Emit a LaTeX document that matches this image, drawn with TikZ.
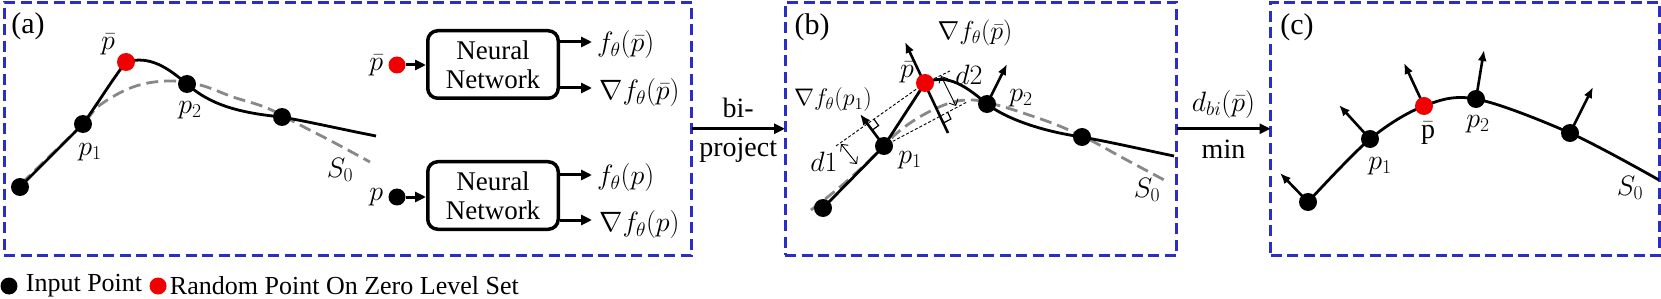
\RequirePackage{fix-cm}
\documentclass[tikz,border=0pt]{standalone}
\usepackage{fontspec}
\setmainfont{Liberation Serif}
\usetikzlibrary{arrows.meta,positioning}
\definecolor{FrameBlue}{RGB}{42,46,196}
\definecolor{PointRed}{RGB}{240,0,0}
\definecolor{ZeroGray}{RGB}{136,136,136}

\begin{document}
\begin{tikzpicture}[x=1pt,y=-1pt,
    panel/.style={draw=FrameBlue,line width=3pt,dash pattern=on 11pt off 5.5pt,
      inner sep=0pt,outer sep=0pt,minimum height=253pt},
    dot/.style={circle,fill=black,minimum size=18pt,inner sep=0pt},
    rdot/.style={dot,fill=PointRed},
    curve/.style={line width=2.8pt},
    zeroset/.style={draw=ZeroGray,line width=2.8pt,dash pattern=on 12pt off 6pt},
    grad/.style={line width=2.6pt,-{Latex[length=11pt,width=9pt]}},
    flow/.style={line width=3pt,-{Triangle[length=11pt,width=10pt]}},
    guide/.style={line width=0.9pt,dash pattern=on 3pt off 2pt},
    dist/.style={line width=0.9pt,{Straight Barb[length=5pt]}-{Straight Barb[length=5pt]}},
    net/.style={draw,line width=3.5pt,rounded corners=10pt,minimum width=130.5pt,
      minimum height=67.5pt,align=center,font=\fontsize{27}{29}\selectfont},
    lbl/.style={inner sep=0pt,font=\fontsize{28}{30}\selectfont},
    outlbl/.style={lbl,anchor=west},
    tag/.style={inner sep=0pt,font=\fontsize{30}{32}\selectfont},
    keytext/.style={inner sep=0pt,font=\fontsize{26}{28}\selectfont}
  ]
  \useasboundingbox (0,0) rectangle (1661,299);

  % frames
  \node[panel,minimum width=687.5pt] (panA) at (347.75,128.75) {};
  \node[panel,minimum width=391.5pt] (panB) at (980.75,128.75) {};
  \node[panel,minimum width=389pt] (panC) at (1465,128.75) {};
  \node[tag] at (28,26) {(a)};
  \node[tag] at (812,27) {(b)};
  \node[tag] at (1297,27) {(c)};

  % (a) curves
  \coordinate (a0) at (20,187);
  \coordinate (a1) at (83,124);
  \coordinate (ar) at (126,62);
  \coordinate (a2) at (187,84);
  \coordinate (a3) at (282,117);
  \coordinate (ae) at (376,136);
  \draw[zeroset] plot[smooth,tension=0.6] coordinates {(22,183) (53,153) (83,124)
    (100,105) (133,87) (167,81) (200,85) (233,97) (267,108) (300,125) (333,142) (370,162)};
  \draw[curve] (a0) -- (a1) .. controls (98,103) and (112,80) .. (ar)
    .. controls (150,55) and (168,68) .. (a2)
    .. controls (210,105) and (240,113) .. (a3)
    .. controls (315,123) and (345,130) .. (ae);
  \node[dot] (dA0) at (a0) {};
  \node[dot] (dA1) at (a1) {};
  \node[rdot] (dAr) at (ar) {};
  \node[dot] (dA2) at (a2) {};
  \node[dot] (dA3) at (a3) {};
  \node[lbl] at (108,44) {$\bar{p}$};
  \node[lbl] at (90,152) {$p_1$};
  \node[lbl] at (190,110) {$p_2$};
  \node[lbl] at (340,170) {$S_0$};

  % (a) networks
  \node[net] (nnA) at (493,64.5) {Neural\\Network};
  \node[net] (nnB) at (493,195.5) {Neural\\Network};
  \node[rdot,minimum size=17pt] (inA) at (397,65) {};
  \node[dot,minimum size=17pt] (inB) at (397,197) {};
  \node[lbl,left=5pt of inA] {$\bar{p}$};
  \node[lbl,left=5pt of inB] {$p$};
  \draw[flow] (inA) -- (inA -| nnA.west);
  \draw[flow] (inB) -- (inB -| nnB.west);
  \coordinate (oA1) at (592,42);
  \coordinate (oA2) at (592,88);
  \coordinate (oB1) at (592,175);
  \coordinate (oB2) at (592,220);
  \draw[flow] (nnA.east |- oA1) -- (oA1);
  \draw[flow] (nnA.east |- oA2) -- (oA2);
  \draw[flow] (nnB.east |- oB1) -- (oB1);
  \draw[flow] (nnB.east |- oB2) -- (oB2);
  \node[outlbl] at (597,45) {$f_\theta(\bar{p})$};
  \node[outlbl] at (599,93) {$\nabla f_\theta(\bar{p})$};
  \node[outlbl] at (597,178) {$f_\theta(p)$};
  \node[outlbl] at (599,225) {$\nabla f_\theta(p)$};

  % between panels
  \draw[flow] (panA) -- (panB)
    node[midway,above=9pt,tag,font=\fontsize{28}{30}\selectfont] {bi-}
    node[midway,below=8pt,tag,font=\fontsize{28}{30}\selectfont] {project};
  \draw[flow] (panB) -- (panC)
    node[midway,above=9pt,lbl] {$d_{bi}(\bar{p})$}
    node[midway,below=10pt,tag,font=\fontsize{28}{30}\selectfont] {min};

  % (b) curves
  \coordinate (b0) at (823,208);
  \coordinate (b1) at (884,146);
  \coordinate (br) at (925,83);
  \coordinate (b2) at (987,104);
  \coordinate (b3) at (1082,137);
  \coordinate (be) at (1174,156);
  \draw[zeroset] plot[smooth,tension=0.6] coordinates {(811,210) (840,187) (870,160)
    (897,133) (923,115) (950,103) (973,100) (997,105) (1023,113) (1057,125) (1090,140)
    (1123,158) (1168,182)};
  \draw[curve] (b0) -- (b1) -- (br) .. controls (948,72) and (968,88) .. (b2)
    .. controls (1005,118) and (1040,131) .. (b3)
    .. controls (1115,143) and (1145,150) .. (be);

  % (b) projections
  \coordinate (g1) at (836,146);
  \coordinate (g2) at (950,71);
  \coordinate (g3) at (967,102);
  \draw[guide] (g1) -- (br);
  \draw[guide] (br) -- (g2);
  \draw[guide] (b1) -- (g3);
  \coordinate (nB) at (948,133);
  \coordinate (tBr) at (905,42);
  \coordinate (tB1) at (860,114);
  \coordinate (tB2) at (1007,64);
  \draw[grad] (nB) -- (tBr);
  \draw[grad] (b1) -- (tB1);
  \draw[grad] (b2) -- (tB2);
  \draw[line width=1.2pt] (873.8,119.1) -- (878.6,125.5) -- (872.1,130.2);
  \draw[line width=1.2pt] (947.5,111.9) -- (950.9,119.1) -- (943.8,122.7);
  \coordinate (d1a) at (841,144);
  \coordinate (d1b) at (857,164);
  \coordinate (d2a) at (941,76);
  \coordinate (d2b) at (956,106);
  \draw[dist] (d1a) -- (d1b);
  \draw[dist] (d2a) -- (d2b);
  \node[dot] (dB0) at (b0) {};
  \node[dot] (dB1) at (b1) {};
  \node[rdot] (dBr) at (br) {};
  \node[dot] (dB2) at (b2) {};
  \node[dot] (dB3) at (b3) {};
  \node[lbl,font=\fontsize{26}{28}\selectfont] at (975,33) {$\nabla f_\theta(\bar{p})$};
  \node[lbl,font=\fontsize{24}{26}\selectfont] at (833,100) {$\nabla f_\theta(p_1)$};
  \node[lbl] at (907,72) {$\bar{p}$};
  \node[lbl] at (969,75) {$d2$};
  \node[lbl] at (1021,98) {$p_2$};
  \node[lbl] at (824,162) {$d1$};
  \node[lbl] at (910,160) {$p_1$};
  \node[lbl] at (1147,190) {$S_0$};

  % (c) curve
  \coordinate (c0) at (1308,202);
  \coordinate (c1) at (1370,139);
  \coordinate (cr) at (1424,106);
  \coordinate (c2) at (1476,99);
  \coordinate (c3) at (1570,133);
  \coordinate (ce) at (1659,180);
  \draw[curve] plot[smooth,tension=0.55] coordinates {(c0) (c1) (cr) (c2) (c3) (ce)};
  \coordinate (tC0) at (1280,173);
  \coordinate (tC1) at (1339,105);
  \coordinate (tCr) at (1404,63);
  \coordinate (tC2) at (1484,50);
  \coordinate (tC3) at (1593,87);
  \foreach \p in {0,1,r,2,3}
    \draw[grad] (c\p) -- (tC\p);
  \node[dot] (dC0) at (c0) {};
  \node[dot] (dC1) at (c1) {};
  \node[rdot] (dCr) at (cr) {};
  \node[dot] (dC2) at (c2) {};
  \node[dot] (dC3) at (c3) {};
  \node[lbl] at (1428,133) {$\bar{\mathrm{p}}$};
  \node[lbl] at (1380,166) {$p_1$};
  \node[lbl] at (1478,124) {$p_2$};
  \node[lbl] at (1630,188) {$S_0$};

  % legend
  \node[dot,minimum size=17pt] (keyIn) at (9,286) {};
  \node[keytext,right=8pt of keyIn] (keyInTxt) {Input Point};
  \node[rdot,minimum size=17pt,right=7pt of keyInTxt] (keyRand) {};
  \node[keytext,right=3pt of keyRand] {Random Point On Zero Level Set};
\end{tikzpicture}
\end{document}
